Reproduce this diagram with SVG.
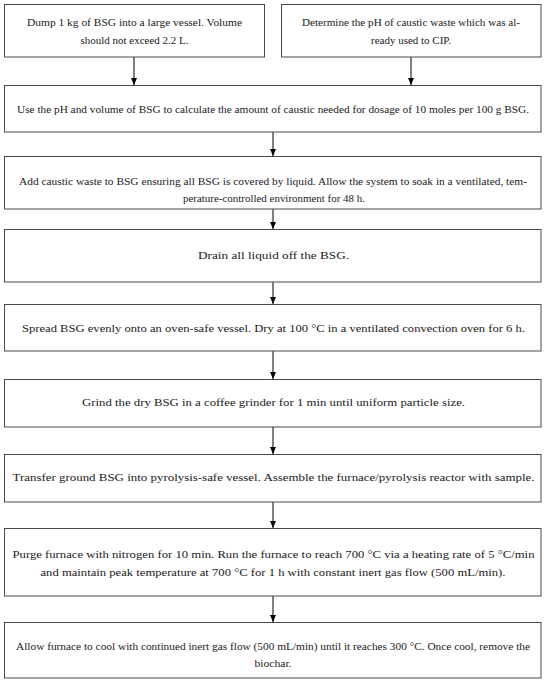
<svg xmlns="http://www.w3.org/2000/svg" width="550" height="681" viewBox="0 0 550 681">
<style>
.box{fill:#fff;stroke:#4a4a4a;stroke-width:1}
.t{font-family:"Liberation Serif","Times New Roman",serif;font-size:11px;fill:#1a1a1a;text-anchor:middle}
.s{font-size:10.5px}
.c{stroke:#000;stroke-width:1;fill:none;marker-end:url(#ah)}
</style>
<defs>
<marker id="ah" markerWidth="7" markerHeight="6" refX="7" refY="3" orient="auto" markerUnits="userSpaceOnUse" viewBox="0 0 7 6">
<path d="M0,0 L7,3 L0,6 Z" fill="#000"/>
</marker>
</defs>
<rect width="550" height="681" fill="#fff"/>
<g id="connectors">
<line class="c" x1="134" y1="57" x2="134" y2="85"/>
<line class="c" x1="411" y1="57" x2="411" y2="85"/>
<line class="c" x1="273" y1="132" x2="273" y2="156"/>
<line class="c" x1="273" y1="209" x2="273" y2="229"/>
<line class="c" x1="273" y1="282" x2="273" y2="304"/>
<line class="c" x1="273" y1="351" x2="273" y2="379"/>
<line class="c" x1="273" y1="427" x2="273" y2="454"/>
<line class="c" x1="273" y1="502" x2="273" y2="528"/>
<line class="c" x1="273" y1="596" x2="273" y2="622"/>
</g>
<g id="n1"><rect class="box" x="4.5" y="4.5" width="260" height="52.5"/>
<text class="t" x="134.5" y="25.5" textLength="215" lengthAdjust="spacingAndGlyphs">Dump 1 kg of BSG into a large vessel. Volume</text>
<text class="t" x="134.5" y="43.5" textLength="108" lengthAdjust="spacingAndGlyphs">should not exceed 2.2 L.</text></g>
<g id="n2"><rect class="box" x="281.5" y="4.5" width="259.5" height="52.5"/>
<text class="t" x="411" y="25.5" textLength="218" lengthAdjust="spacingAndGlyphs">Determine the pH of caustic waste which was al-</text>
<text class="t" x="411" y="43.5" textLength="80" lengthAdjust="spacingAndGlyphs">ready used to CIP.</text></g>
<g id="n3"><rect class="box" x="4.5" y="85.5" width="536.5" height="46.5"/>
<text class="t" x="273" y="113" textLength="512" lengthAdjust="spacingAndGlyphs">Use the pH and volume of BSG to calculate the amount of caustic needed for dosage of 10 moles per 100 g BSG.</text></g>
<g id="n4"><rect class="box" x="4.5" y="156.5" width="536.5" height="52.5"/>
<text class="t s" x="273" y="184.5" textLength="508" lengthAdjust="spacingAndGlyphs">Add caustic waste to BSG ensuring all BSG is covered by liquid. Allow the system to soak in a ventilated, tem-</text>
<text class="t s" x="274" y="201.5" textLength="182" lengthAdjust="spacingAndGlyphs">perature-controlled environment for 48 h.</text></g>
<g id="n5"><rect class="box" x="4.5" y="229.5" width="536.5" height="52.5"/>
<text class="t" x="273.5" y="258.5" textLength="151" lengthAdjust="spacingAndGlyphs">Drain all liquid off the BSG.</text></g>
<g id="n6"><rect class="box" x="4.5" y="304.5" width="536.5" height="46.5"/>
<text class="t" x="273.5" y="331.5" textLength="503" lengthAdjust="spacingAndGlyphs">Spread BSG evenly onto an oven-safe vessel. Dry at 100 °C in a ventilated convection oven for 6 h.</text></g>
<g id="n7"><rect class="box" x="4.5" y="379.5" width="536.5" height="47.5"/>
<text class="t" x="273.5" y="405.5" textLength="383" lengthAdjust="spacingAndGlyphs">Grind the dry BSG in a coffee grinder for 1 min until uniform particle size.</text></g>
<g id="n8"><rect class="box" x="4.5" y="454.5" width="536.5" height="47.5"/>
<text class="t" x="273.5" y="480.5" textLength="522" lengthAdjust="spacingAndGlyphs">Transfer ground BSG into pyrolysis-safe vessel. Assemble the furnace/pyrolysis reactor with sample.</text></g>
<g id="n9"><rect class="box" x="4.5" y="528.5" width="536.5" height="67.5"/>
<text class="t" x="273.5" y="557.5" textLength="522" lengthAdjust="spacingAndGlyphs">Purge furnace with nitrogen for 10 min. Run the furnace to reach 700 °C via a heating rate of 5 °C/min</text>
<text class="t" x="273" y="575.5" textLength="465" lengthAdjust="spacingAndGlyphs">and maintain peak temperature at 700 °C for 1 h with constant inert gas flow (500 mL/min).</text></g>
<g id="n10"><rect class="box" x="4.5" y="622.5" width="536.5" height="55.5"/>
<text class="t s" x="273" y="649.5" textLength="514" lengthAdjust="spacingAndGlyphs">Allow furnace to cool with continued inert gas flow (500 mL/min) until it reaches 300 °C. Once cool, remove the</text>
<text class="t s" x="273" y="667" textLength="37" lengthAdjust="spacingAndGlyphs">biochar.</text></g>
</svg>
